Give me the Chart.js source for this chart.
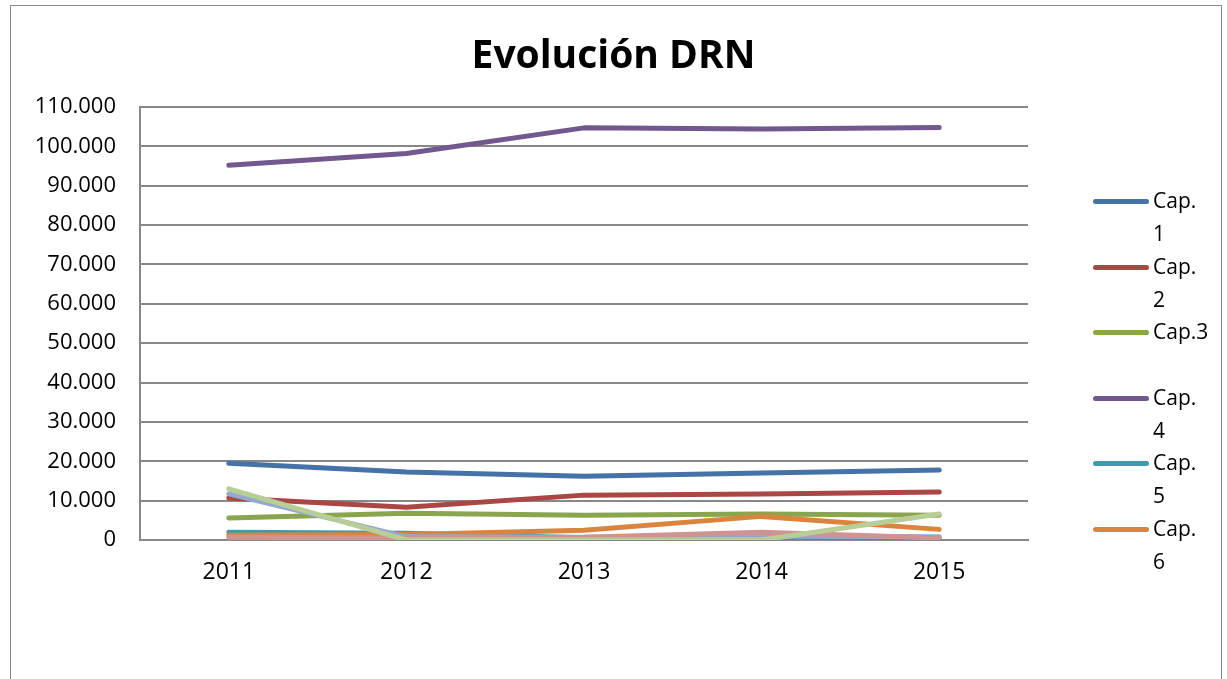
<!DOCTYPE html>
<html>
<head>
<meta charset="utf-8">
<script src="https://cdn.jsdelivr.net/npm/chart.js@4.4.0/dist/chart.umd.min.js"></script>
<style>
  body { margin: 0; background: #fff; font-family: 'Open Sans', sans-serif; }
  #frame { position: absolute; left: 10px; top: 5px; width: 1210px; height: 700px; border: 1px solid #888; }
  #wrap { position: absolute; left: 0; top: 0; width: 1227px; height: 679px; }
  #title { position: absolute; left: 0; top: 26px; width: 1227px; text-align: center; font-size: 39px; font-weight: bold; line-height: 53px; color: #000; }
  #legend { position: absolute; left: 1093px; top: 184px; font-size: 21px; line-height: 33px; color: #000; }
  .item { display: flex; align-items: flex-start; height: 65.5px; }
  .swatch { width: 56px; height: 5px; border-radius: 3px; margin-top: 15px; margin-right: 4px; }
  .lbl { width: 60px; }
</style>
</head>
<body>
<div id="frame"></div>
<div id="wrap"><canvas id="chart" width="1227" height="679"></canvas></div>
<div id="title">Evolución DRN</div>
<div id="legend"></div>
<script>
'use strict';
//data
const years = ['2011', '2012', '2013', '2014', '2015'];
const cap1 = [19500, 17300, 16200, 17000, 17800];
const cap2 = [10700, 8300, 11400, 11700, 12200];
const cap3 = [5600, 6800, 6300, 6600, 6300];
const cap4 = [95200, 98200, 104700, 104400, 104800];
const cap5 = [2000, 1700, 600, 300, 300];
const cap6 = [1200, 1400, 2500, 6000, 2700];
const cap7 = [11700, 800, 700, 1000, 800];
const cap8 = [700, 500, 700, 2000, 500];
const cap9 = [13000, 0, 0, 0, 6600];
const yTicks = [0, 10000, 20000, 30000, 40000, 50000, 60000, 70000, 80000, 90000, 100000, 110000];

// Cap.7 - Cap.9 are drawn but not in the legend (cut off in the original)
const series = [
  { name: 'Cap. 1', values: cap1, color: '#4572a7', legend: ['Cap.', '1'] },
  { name: 'Cap. 2', values: cap2, color: '#aa4643', legend: ['Cap.', '2'] },
  { name: 'Cap.3', values: cap3, color: '#89a54e', legend: ['Cap.3', ''] },
  { name: 'Cap. 4', values: cap4, color: '#71588f', legend: ['Cap.', '4'] },
  { name: 'Cap. 5', values: cap5, color: '#4198af', legend: ['Cap.', '5'] },
  { name: 'Cap. 6', values: cap6, color: '#db843d', legend: ['Cap.', '6'] },
  { name: 'Cap. 7', values: cap7, color: '#93a9cf', legend: null },
  { name: 'Cap. 8', values: cap8, color: '#d19392', legend: null },
  { name: 'Cap. 9', values: cap9, color: '#b9cd96', legend: null }
];

function fmt(v) {
  return String(v).replace(/\B(?=(\d{3})+(?!\d))/g, '.');
}

const datasets = [];
for (let i = 0; i < series.length; i++) {
  datasets.push({
    label: series[i].name,
    data: series[i].values,
    borderColor: series[i].color,
    backgroundColor: series[i].color,
    borderWidth: 5,
    borderCapStyle: 'round',
    borderJoinStyle: 'round',
    pointRadius: 0,
    tension: 0,
    order: i === 3 ? 0 : 9 - i
  });
}

new Chart(document.getElementById('chart').getContext('2d'), {
  type: 'line',
  data: { labels: years, datasets: datasets },
  options: {
    responsive: false,
    animation: false,
    layout: { padding: { left: 10, right: 199, top: 107, bottom: 89 } },
    plugins: {
      legend: { display: false },
      tooltip: { enabled: false }
    },
    scales: {
      x: {
        offset: true,
        afterFit: function (scale) { scale.height = 50; },
        grid: { display: false, drawTicks: false },
        border: { color: '#888', width: 2 },
        ticks: { color: '#000', font: { family: 'Open Sans', size: 23 }, padding: 19 }
      },
      y: {
        min: 0,
        max: 110000,
        afterFit: function (scale) { scale.width = 130; },
        afterBuildTicks: function (scale) {
          scale.ticks = yTicks.map(function (v) { return { value: v }; });
        },
        grid: { color: '#888', lineWidth: 2, drawTicks: false },
        border: { color: '#888', width: 2 },
        ticks: {
          color: '#000',
          font: { family: 'Open Sans', size: 22 },
          padding: 24,
          callback: function (v) { return fmt(v); }
        }
      }
    }
  }
});

// legend, only the first six entries show
const legendEl = document.getElementById('legend');
for (let i = 0; i < series.length; i++) {
  if (!series[i].legend) continue;
  const item = document.createElement('div');
  item.className = 'item';
  const sw = document.createElement('div');
  sw.className = 'swatch';
  sw.style.background = series[i].color;
  const lbl = document.createElement('div');
  lbl.className = 'lbl';
  lbl.innerHTML = series[i].legend[0] + '<br>' + series[i].legend[1];
  item.appendChild(sw);
  item.appendChild(lbl);
  legendEl.appendChild(item);
}
</script>
</body>
</html>
